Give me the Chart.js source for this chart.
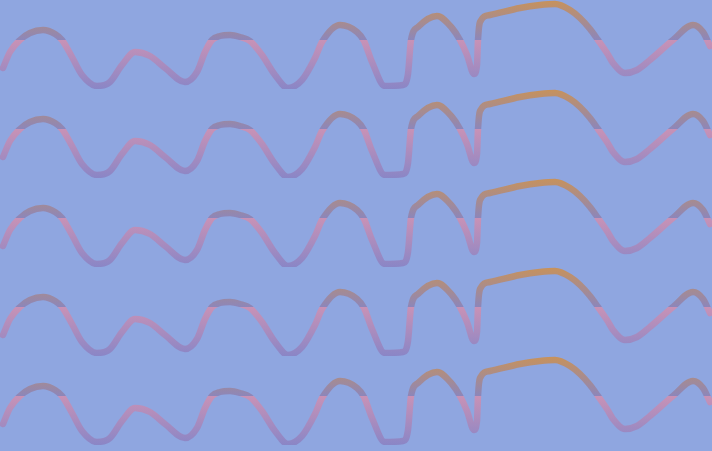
<!DOCTYPE html>
<html>
<head>
<meta charset="utf-8">
<script src="https://cdn.jsdelivr.net/npm/chart.js@4"></script>
<style>
  html, body { margin: 0; padding: 0; background: #8fa6e0; }
  #wrap { width: 712px; height: 451px; overflow: hidden; }
  canvas { display: block; }
</style>
</head>
<body>
<div id="wrap"></div>
<script>
// one wave, repeated on every row
const xs = [3, 10, 20, 30, 43, 55, 62, 72, 82, 97, 110, 122, 135, 150, 165, 185, 197, 205, 212, 220, 230,
  240, 250, 262, 275, 288, 302, 315, 322, 340, 357, 364, 372, 385, 403, 408, 411, 418, 437, 452, 460, 467,
  474, 477, 478, 480, 490, 520, 540, 555, 570, 580, 590, 598, 607, 613, 625, 637, 650, 673, 693, 703, 710];
const ys = [21, 37, 49, 56, 59, 55, 49, 32, 14, 3, 7, 24, 37, 33, 21, 7, 17, 37, 49, 53, 54,
  52, 48, 34, 14, 1, 9, 31, 47, 64, 57, 48, 27, 3, 4, 15, 49, 62, 73, 61, 49, 34,
  15, 24, 49, 67, 74, 81, 84, 85, 79, 71, 60, 49, 36, 26, 16, 19, 29, 49, 64, 57, 43];
const rowCount = 5;

const wrap = document.getElementById('wrap');

const lineGradient = (ctx) => {
  const area = ctx.chart.chartArea;
  if (!area) return '#a08cc0';
  const g = ctx.chart.ctx.createLinearGradient(0, area.top, 0, area.bottom);
  g.addColorStop(0, '#c8925a');
  g.addColorStop(0.45, '#8c86ba');
  g.addColorStop(0.45, '#c892b6');
  g.addColorStop(1, '#8a86c6');
  return g;
};

for (let r = 0; r < rowCount; r++) {
  const cv = document.createElement('canvas');
  cv.width = 712;
  cv.height = 89;
  wrap.appendChild(cv);

  new Chart(cv.getContext('2d'), {
    type: 'line',
    data: {
      datasets: [{
        data: xs.map((x, i) => ({ x: x, y: ys[i] })),
        borderColor: lineGradient,
        borderWidth: 6.5,
        borderCapStyle: 'round',
        borderJoinStyle: 'round',
        cubicInterpolationMode: 'monotone',
        pointRadius: 0,
        fill: false,
        clip: false
      }]
    },
    options: {
      responsive: false,
      animation: false,
      layout: { padding: 0 },
      plugins: { legend: { display: false }, tooltip: { enabled: false } },
      scales: {
        x: { type: 'linear', min: 0, max: 712, display: false },
        y: { min: 0, max: 89, display: false }
      }
    }
  });
}
</script>
</body>
</html>
